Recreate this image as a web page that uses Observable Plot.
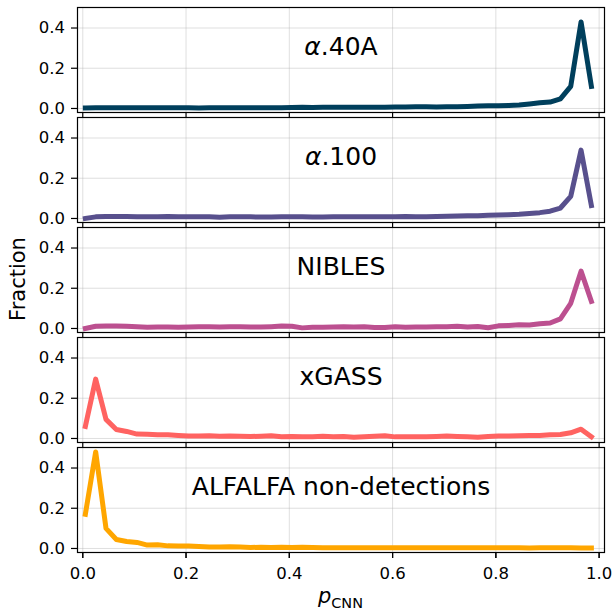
<!DOCTYPE html>
<html>
<head>
<meta charset="utf-8">
<script src="https://cdn.jsdelivr.net/npm/d3@7"></script>
<script src="https://cdn.jsdelivr.net/npm/@observablehq/plot@0.6"></script>
<style>
  html, body { margin: 0; padding: 0; background: #fff; }
  svg { display: block; }
</style>
</head>
<body>
<script>
// ---- data ----
const panels = ["α.40A", "α.100", "NIBLES", "xGASS", "ALFALFA non-detections"];
const colors = ["#003f5c", "#58508d", "#bc5090", "#ff6361", "#ffa600"];

const pCNN = [0.005, 0.025, 0.045, 0.065, 0.085, 0.105, 0.125, 0.145, 0.165, 0.185,
              0.205, 0.225, 0.245, 0.265, 0.285, 0.305, 0.325, 0.345, 0.365, 0.385,
              0.405, 0.425, 0.445, 0.465, 0.485, 0.505, 0.525, 0.545, 0.565, 0.585,
              0.605, 0.625, 0.645, 0.665, 0.685, 0.705, 0.725, 0.745, 0.765, 0.785,
              0.805, 0.825, 0.845, 0.865, 0.885, 0.905, 0.925, 0.945, 0.965, 0.985];

const alpha40A = [0.002, 0.003, 0.003, 0.003, 0.003, 0.003, 0.003, 0.003, 0.003, 0.003,
                  0.003, 0.002, 0.003, 0.003, 0.003, 0.004, 0.004, 0.004, 0.004, 0.004,
                  0.005, 0.006, 0.005, 0.006, 0.006, 0.006, 0.006, 0.006, 0.006, 0.006,
                  0.007, 0.007, 0.008, 0.008, 0.007, 0.009, 0.009, 0.010, 0.012, 0.013,
                  0.014, 0.015, 0.017, 0.022, 0.028, 0.032, 0.048, 0.110, 0.430, 0.110];

const alpha100 = [0.000, 0.008, 0.010, 0.010, 0.010, 0.009, 0.008, 0.008, 0.010, 0.008,
                  0.008, 0.009, 0.008, 0.006, 0.008, 0.008, 0.008, 0.007, 0.007, 0.008,
                  0.008, 0.008, 0.007, 0.007, 0.008, 0.009, 0.009, 0.008, 0.008, 0.009,
                  0.009, 0.010, 0.008, 0.009, 0.010, 0.011, 0.012, 0.013, 0.014, 0.016,
                  0.017, 0.019, 0.021, 0.025, 0.029, 0.036, 0.052, 0.110, 0.340, 0.064];

const nibles = [0.000, 0.011, 0.012, 0.012, 0.011, 0.009, 0.006, 0.007, 0.007, 0.006,
                0.007, 0.008, 0.008, 0.007, 0.008, 0.008, 0.007, 0.007, 0.009, 0.012,
                0.011, 0.003, 0.006, 0.006, 0.007, 0.008, 0.007, 0.009, 0.005, 0.005,
                0.009, 0.006, 0.007, 0.007, 0.008, 0.009, 0.011, 0.007, 0.010, 0.004,
                0.013, 0.015, 0.018, 0.017, 0.024, 0.027, 0.048, 0.125, 0.285, 0.135];

const xgass = [0.060, 0.295, 0.095, 0.045, 0.035, 0.022, 0.021, 0.018, 0.019, 0.015,
               0.012, 0.012, 0.014, 0.011, 0.012, 0.011, 0.010, 0.011, 0.013, 0.009,
               0.010, 0.008, 0.009, 0.011, 0.008, 0.010, 0.006, 0.008, 0.011, 0.014,
               0.008, 0.008, 0.008, 0.009, 0.010, 0.012, 0.010, 0.008, 0.006, 0.010,
               0.012, 0.012, 0.014, 0.015, 0.015, 0.018, 0.020, 0.028, 0.046, 0.008];

const alfalfaNonDet = [0.170, 0.480, 0.100, 0.045, 0.035, 0.030, 0.017, 0.019, 0.013, 0.012,
                       0.012, 0.010, 0.007, 0.007, 0.008, 0.007, 0.005, 0.006, 0.005, 0.006,
                       0.005, 0.006, 0.005, 0.004, 0.003, 0.004, 0.003, 0.003, 0.003, 0.003,
                       0.003, 0.003, 0.003, 0.004, 0.003, 0.004, 0.003, 0.003, 0.003, 0.004,
                       0.003, 0.003, 0.004, 0.002, 0.003, 0.004, 0.003, 0.003, 0.002, 0.002];

const xTicks = [0, 0.2, 0.4, 0.6, 0.8, 1.0];
const xTickLabels = ["0.0", "0.2", "0.4", "0.6", "0.8", "1.0"];
const yTicks = [0, 0.2, 0.4];
const yTickLabels = ["0.0", "0.2", "0.4"];

// ---- table built from arrays ----
const series = [alpha40A, alpha100, nibles, xgass, alfalfaNonDet];
const rows = [];
series.forEach((vals, k) => vals.forEach((v, i) => rows.push({panel: panels[k], x: pCNN[i], y: v})));
const labelRows = panels.map(p => ({panel: p, label: p}));

const W = 614, H = 611;
const mL = 77, mR = 10, mT = 5, mB = 57.5;

const chart = Plot.plot({
  width: W,
  height: H,
  marginLeft: mL,
  marginRight: mR,
  marginTop: mT,
  marginBottom: mB,
  style: {fontFamily: "DejaVu Sans, sans-serif", fontSize: "16.5px", color: "#000", background: "#fff"},
  x: {domain: [-0.0102, 1.0104]},
  y: {domain: [-0.02, 0.502]},
  fy: {domain: panels, axis: null, paddingInner: 0.048, paddingOuter: 0},
  color: {domain: panels, range: colors},
  marks: [
    Plot.gridX(xTicks, {stroke: "#b0b0b0", strokeOpacity: 0.4, strokeWidth: 1}),
    Plot.gridY(yTicks, {stroke: "#b0b0b0", strokeOpacity: 0.4, strokeWidth: 1}),
    Plot.line(rows, {x: "x", y: "y", fy: "panel", stroke: "panel", strokeWidth: 5,
                     strokeLinejoin: "round", strokeLinecap: "square"}),
    Plot.text(labelRows, {fy: "panel", text: "label", frameAnchor: "top", lineAnchor: "middle", dy: 39,
                          fontSize: 25, fill: "#000"}),
    Plot.frame({stroke: "#000", strokeWidth: 1.2}),
    Plot.axisY(yTicks, {tickFormat: (d, i) => yTickLabels[i], tickSize: 6, tickPadding: 6.5,
                        label: null, strokeWidth: 1.2}),
    Plot.axisX(xTicks, {tickFormat: () => "", tickSize: 6, label: null, facetAnchor: null, strokeWidth: 1.2}),
    Plot.axisX(xTicks, {tickFormat: (d, i) => xTickLabels[i], tickSize: 6, tickPadding: 9,
                        label: null, strokeWidth: 1.2})
  ]
});

document.body.appendChild(chart);

const svg = d3.select(chart);

// italic alpha in panel labels
svg.selectAll("text").each(function() {
  const t = d3.select(this);
  if (this.childElementCount === 0) {
    const s = t.text();
    if (s.startsWith("α")) {
      t.text(null);
      t.append("tspan").attr("font-style", "italic").text("α");
      t.append("tspan").text(s.slice(1));
    }
  }
});

// y-axis title
svg.append("text")
  .attr("transform", "translate(25,279) rotate(-90)")
  .attr("text-anchor", "middle")
  .attr("font-size", 21)
  .attr("fill", "#000")
  .text("Fraction");

// x-axis title with subscript
const xt = svg.append("text")
  .attr("x", (mL + (W - mR)) / 2)
  .attr("y", 603)
  .attr("text-anchor", "middle")
  .attr("font-size", 21)
  .attr("fill", "#000");
xt.append("tspan").attr("font-style", "italic").text("p");
xt.append("tspan").attr("font-size", 14.5).attr("dy", 5).text("CNN");
</script>
</body>
</html>
